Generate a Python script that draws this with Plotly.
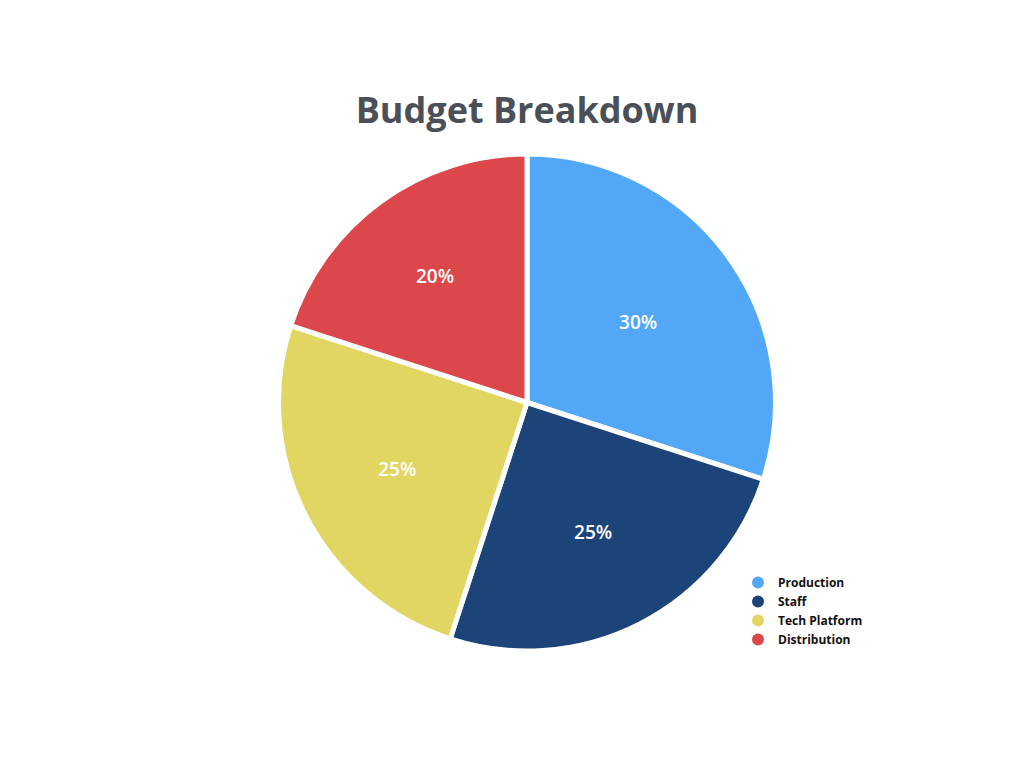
import plotly.graph_objects as go

categories = ["Production", "Staff", "Tech Platform", "Distribution"]
values = [30, 25, 25, 20]
colors = ["#52a7f6", "#1d4479", "#e2d663", "#dc474b"]

W, H = 1024, 768
# page has an 8px body margin; coordinates below are figure coordinates
cx0, cx1 = 270, 768
cy0, cy1 = 146, 643

fig = go.Figure()
fig.add_trace(go.Pie(
    labels=categories, values=values, sort=False, direction="clockwise", rotation=0,
    marker=dict(colors=colors, line=dict(color="white", width=5)),
    textinfo="percent", texttemplate="%{percent:.0%}",
    insidetextorientation="horizontal",
    textfont=dict(color="white", size=19, family="Open Sans, sans-serif", weight=600),
    showlegend=False, hoverinfo="label+percent",
    domain=dict(x=[cx0 / W, cx1 / W], y=[1 - cy1 / H, 1 - cy0 / H]),
))
for c, col in zip(categories, colors):
    fig.add_trace(go.Scatter(
        x=[None], y=[None], mode="markers", name="<b>" + c + "</b>",
        marker=dict(color=col, size=12, symbol="circle"),
    ))

fig.update_layout(
    width=W, height=H,
    margin=dict(l=0, r=0, t=0, b=0),
    paper_bgcolor="white", plot_bgcolor="white",
    title=dict(text="<b>Budget Breakdown</b>", x=519 / W, xanchor="center", y=1 - 102 / H, yanchor="middle",
               font=dict(size=36, color="#4b4f57", family="Open Sans, sans-serif")),
    xaxis=dict(visible=False), yaxis=dict(visible=False),
    legend=dict(x=730 / W, y=1 - 560 / H, xanchor="left", yanchor="top",
                font=dict(size=12, color="#111111", family="Open Sans, sans-serif"),
                itemwidth=30, tracegroupgap=0, bgcolor="rgba(0,0,0,0)"),
)
fig.write_html("out.html")
